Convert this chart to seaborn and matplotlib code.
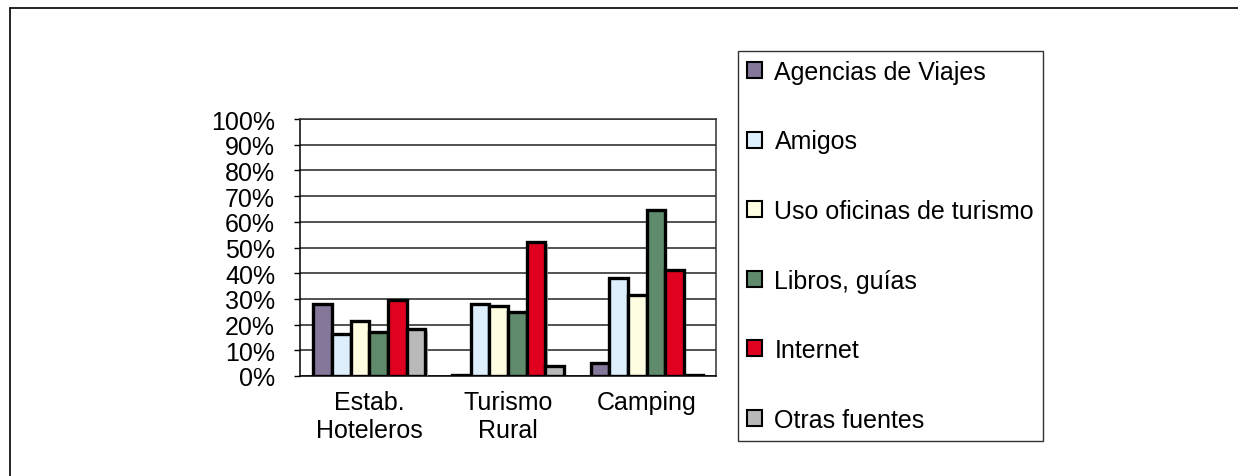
import pandas as pd
import matplotlib
matplotlib.use("Agg")
import matplotlib.pyplot as plt
import matplotlib.patheffects as pe
import seaborn as sns
from matplotlib.lines import Line2D
from matplotlib.patches import Patch

# datos
categorias = ["Estab.\nHoteleros", "Turismo\nRural", "Camping"]
fuentes = ["Agencias de Viajes", "Amigos", "Uso oficinas de turismo",
           "Libros, guías", "Internet", "Otras fuentes"]
agencias = [28.1, 0.5, 4.9]
amigos = [16.3, 28.1, 38.0]
oficinas = [21.5, 27.2, 31.5]
libros = [17.2, 24.9, 64.5]
internet = [29.6, 52.0, 41.3]
otras = [18.2, 4.0, 0.5]
colores = ["#857799", "#DDEEFD", "#FFFDE1", "#5F8A6B", "#E00020", "#B9B9B9"]
yticks = list(range(0, 101, 10))

series = [agencias, amigos, oficinas, libros, internet, otras]
filas = []
for fuente, valores in zip(fuentes, series):
    for cat, v in zip(categorias, valores):
        filas.append({"categoria": cat, "fuente": fuente, "valor": v})
df = pd.DataFrame(filas)

sns.set_style("white")
plt.rcParams["font.family"] = ["Liberation Sans", "DejaVu Sans"]
plt.rcParams["text.color"] = "black"
plt.rcParams["xtick.color"] = "black"
plt.rcParams["ytick.color"] = "black"

fig = plt.figure(figsize=(12.38, 4.77), dpi=100)
ax = fig.add_axes([300 / 1238, 1 - 377 / 477, 416 / 1238, 257 / 477])

sns.barplot(data=df, x="categoria", y="valor", hue="fuente", hue_order=fuentes,
            palette=colores, saturation=1, edgecolor="black", linewidth=2.4,
            width=0.81, gap=0, errorbar=None, legend=False, ax=ax, zorder=3)

# sombra ligera de las barras
for barra in ax.patches:
    barra.set_path_effects([pe.SimplePatchShadow(offset=(1.5, -1.5), shadow_rgbFace="#999999", alpha=0.8),
                            pe.Normal()])

ax.set_ylim(0, 100)
ax.set_yticks(yticks)
ax.set_yticklabels([f"{t}%" for t in yticks])
ax.set_xlim(-0.5, 2.5)
ax.set_xlabel("")
ax.set_ylabel("")
ax.grid(axis="y", color="#222222", linewidth=1.1, zorder=0)
ax.set_axisbelow(True)
for lado in ["left", "right", "top", "bottom"]:
    ax.spines[lado].set_visible(True)
    ax.spines[lado].set_color("#333333")
    ax.spines[lado].set_linewidth(1.1)
ax.spines["left"].set_color("black")
ax.spines["bottom"].set_color("black")
ax.tick_params(axis="y", direction="out", length=4, width=1, color="black",
               pad=14, labelsize=18, left=True, labelcolor="black")
ax.tick_params(axis="x", length=0, pad=10, labelsize=18, labelcolor="black")

# leyenda
handles = [Patch(facecolor=c, edgecolor="black", linewidth=1.5) for c in colores]
fig.legend(handles, fuentes, loc="upper left",
           bbox_to_anchor=(738 / 1238, 1 - 52 / 477), borderaxespad=0,
           fontsize=18, frameon=True, fancybox=False, edgecolor="black",
           labelspacing=1.82, handlelength=0.6, handleheight=0.6,
           handletextpad=0.5, borderpad=0.36)

# marco exterior (solo arriba e izquierda)
fig.add_artist(Line2D([10 / 1238, 1], [1 - 9 / 477, 1 - 9 / 477], color="black", linewidth=1.2))
fig.add_artist(Line2D([10 / 1238, 10 / 1238], [0, 1 - 9 / 477], color="black", linewidth=1.2))

fig.savefig("out.png", dpi=100, facecolor="white")
